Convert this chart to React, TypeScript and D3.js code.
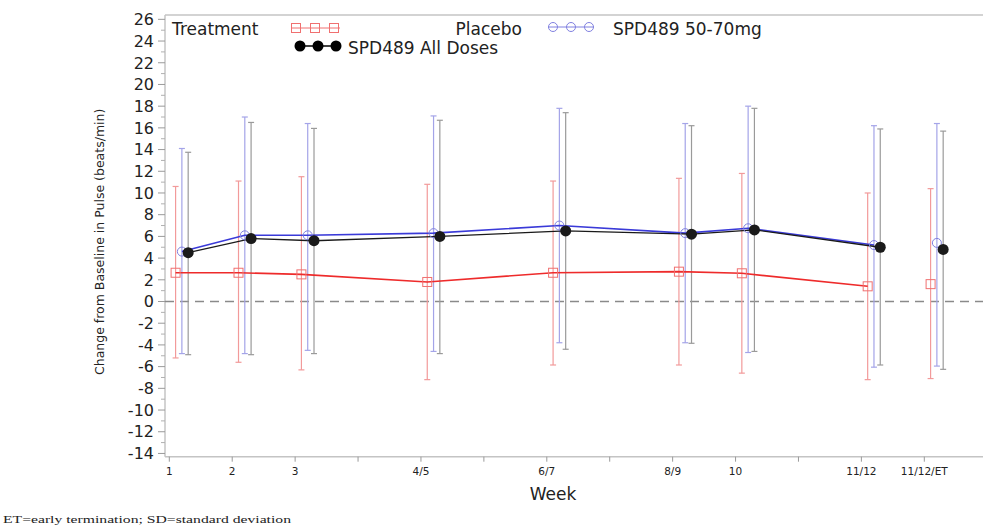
import React from "react";
import * as d3 from "d3";

// weeks (x positions), ET shown as its own slot
const weeks = [1, 2, 3, 5, 7, 9, 10, 12, 13];
const xTickValues = [1, 2, 3, 4, 5, 6, 7, 8, 9, 10, 11, 12, 13];
const xTickLabels = ["1", "2", "3", "", "4/5", "", "6/7", "", "8/9", "10", "", "11/12", "11/12/ET"];

// Placebo
const placeboMean = [2.65, 2.65, 2.5, 1.8, 2.65, 2.75, 2.6, 1.4, 1.6];
const placeboUpper = [10.6, 11.1, 11.5, 10.8, 11.1, 11.35, 11.8, 10.0, 10.4];
const placeboLower = [-5.2, -5.6, -6.3, -7.2, -5.85, -5.85, -6.6, -7.2, -7.1];

// SPD489 50-70mg
const midMean = [4.6, 6.1, 6.1, 6.3, 7.0, 6.3, 6.75, 5.2, 5.4];
const midUpper = [14.1, 17.0, 16.4, 17.1, 17.8, 16.4, 18.0, 16.2, 16.4];
const midLower = [-4.8, -4.8, -4.5, -4.6, -3.8, -3.8, -4.7, -6.05, -5.95];

// SPD489 All Doses
const allMean = [4.5, 5.8, 5.6, 6.0, 6.5, 6.2, 6.6, 5.0, 4.8];
const allUpper = [13.75, 16.5, 15.95, 16.7, 17.4, 16.2, 17.8, 15.9, 15.7];
const allLower = [-4.9, -4.9, -4.8, -4.8, -4.4, -3.85, -4.6, -5.85, -6.25];

const W = 983;
const H = 529;
const plot = { left: 165, top: 15, right: 1010, bottom: 456.7 };

const x = d3.scaleLinear().domain([1, 13]).range([169.3, 924.3]);
const y = d3.scaleLinear().domain([-14.3, 26.4]).range([plot.bottom, plot.top]);

const yMajor = d3.range(-14, 27, 2);
const yMinor = d3.range(-13, 26, 2);

const font = "'DejaVu Sans', Verdana, sans-serif";

type Series = {
  name: string;
  mean: number[];
  upper: number[];
  lower: number[];
  offset: number;
  lineColor: string;
  barColor: string;
  marker: "square" | "circle" | "dot";
};

const series: Series[] = [
  { name: "Placebo", mean: placeboMean, upper: placeboUpper, lower: placeboLower, offset: 0.1, lineColor: "#ee2b2b", barColor: "#f29a9a", marker: "square" },
  { name: "SPD489 50-70mg", mean: midMean, upper: midUpper, lower: midLower, offset: 0.2, lineColor: "#3a3ad8", barColor: "#a4a4e8", marker: "circle" },
  { name: "SPD489 All Doses", mean: allMean, upper: allUpper, lower: allLower, offset: 0.3, lineColor: "#1a1a1a", barColor: "#9a9a9a", marker: "dot" },
];

const Marker = ({ kind, cx, cy, color }: { kind: string; cx: number; cy: number; color: string }) => {
  if (kind === "square")
    return <rect x={cx - 4.5} y={cy - 4.5} width={9} height={9} fill="none" stroke="#f07070" strokeWidth={1} />;
  if (kind === "circle")
    return <circle cx={cx} cy={cy} r={4.5} fill="none" stroke="#8080e0" strokeWidth={1} />;
  return <circle cx={cx} cy={cy} r={5.5} fill={color} />;
};

export default function App() {
  const line = d3
    .line<[number, number]>()
    .x((d) => d[0])
    .y((d) => d[1]);

  return (
    <svg width={W} height={H} style={{ position: "absolute", left: 0, top: 0, background: "#fff" }}>
      {/* frame / axes */}
      <line x1={plot.left} x2={W} y1={plot.top} y2={plot.top} stroke="#c4c4c4" strokeWidth={1.5} />
      <line x1={plot.left} x2={plot.left} y1={plot.top} y2={plot.bottom} stroke="#c4c4c4" strokeWidth={1.5} />
      <line x1={plot.left} x2={W} y1={plot.bottom} y2={plot.bottom} stroke="#c4c4c4" strokeWidth={1.5} />

      {/* y ticks */}
      {yMajor.map((v) => (
        <g key={"ym" + v}>
          <line x1={plot.left - 7} x2={plot.left} y1={y(v)} y2={y(v)} stroke="#9a9a9a" strokeWidth={1} />
          <text x={154} y={y(v)} dy="0.36em" textAnchor="end" fontFamily={font} fontSize={16} fill="#222">
            {v}
          </text>
        </g>
      ))}
      {yMinor.map((v) => (
        <line key={"yn" + v} x1={plot.left - 4} x2={plot.left} y1={y(v)} y2={y(v)} stroke="#b0b0b0" strokeWidth={1} />
      ))}
      <text
        transform={`translate(104,${(plot.top + plot.bottom) / 2 + 6}) rotate(-90)`}
        textAnchor="middle"
        fontFamily={font}
        fontSize={12.5}
        fill="#222"
      >
        Change from Baseline in Pulse (beats/min)
      </text>

      {/* x ticks */}
      {xTickValues.map((v, i) => (
        <g key={"x" + v}>
          <line x1={x(v)} x2={x(v)} y1={plot.bottom} y2={plot.bottom + 5} stroke="#9a9a9a" strokeWidth={1} />
          <text x={x(v)} y={plot.bottom + 18} textAnchor="middle" fontFamily={font} fontSize={10.5} fill="#222">
            {xTickLabels[i]}
          </text>
        </g>
      ))}
      <text x={553} y={500} textAnchor="middle" fontFamily={font} fontSize={17} fill="#222">
        Week
      </text>

      {/* zero reference */}
      <line x1={plot.left} x2={W} y1={y(0)} y2={y(0)} stroke="#8a8a8a" strokeWidth={1.5} strokeDasharray="9 6" />

      {/* error bars */}
      {series.map((s) =>
        weeks.map((w, i) => {
          const cx = x(w + s.offset);
          return (
            <g key={s.name + "e" + w} stroke={s.barColor} strokeWidth={1.2}>
              <line x1={cx} x2={cx} y1={y(s.upper[i])} y2={y(s.lower[i])} />
              <line x1={cx - 3} x2={cx + 3} y1={y(s.upper[i])} y2={y(s.upper[i])} />
              <line x1={cx - 3} x2={cx + 3} y1={y(s.lower[i])} y2={y(s.lower[i])} />
            </g>
          );
        })
      )}

      {/* mean lines (ET not connected) */}
      {series.map((s) => {
        const pts = weeks
          .slice(0, 8)
          .map((w, i) => [x(w + s.offset), y(s.mean[i])] as [number, number]);
        return (
          <path key={s.name + "l"} d={line(pts) || ""} fill="none" stroke={s.lineColor} strokeWidth={s.marker === "dot" ? 1.3 : 1.6} />
        );
      })}

      {/* markers */}
      {series.map((s) =>
        weeks.map((w, i) => (
          <Marker key={s.name + "m" + w} kind={s.marker} cx={x(w + s.offset)} cy={y(s.mean[i])} color={s.lineColor} />
        ))
      )}

      {/* legend */}
      <g fontFamily={font} fontSize={17} fill="#222">
        <text x={172} y={35}>Treatment</text>
        <line x1={292} x2={340} y1={28} y2={28} stroke="#f07070" strokeWidth={1} />
        {[296, 315, 334].map((cx) => (
          <Marker key={"lp" + cx} kind="square" cx={cx} cy={28} color="#f07070" />
        ))}
        <text x={522} y={35} textAnchor="end">Placebo</text>
        <line x1={548} x2={594} y1={27} y2={27} stroke="#8080e0" strokeWidth={1} />
        {[553, 571, 589].map((cx) => (
          <Marker key={"lm" + cx} kind="circle" cx={cx} cy={27} color="#8080e0" />
        ))}
        <text x={613} y={35}>SPD489 50-70mg</text>
        <line x1={298} x2={338} y1={46} y2={46} stroke="#000" strokeWidth={1.3} />
        {[300, 318, 336].map((cx) => (
          <Marker key={"la" + cx} kind="dot" cx={cx} cy={46} color="#000" />
        ))}
        <text x={348} y={54}>SPD489 All Doses</text>
      </g>

      {/* footnote */}
      <text
        x={3}
        y={523}
        fontFamily="'Liberation Serif', 'Times New Roman', serif"
        fontSize={11}
        fill="#222"
        textLength={288}
        lengthAdjust="spacingAndGlyphs"
      >
        ET=early termination; SD=standard deviation
      </text>
    </svg>
  );
}
